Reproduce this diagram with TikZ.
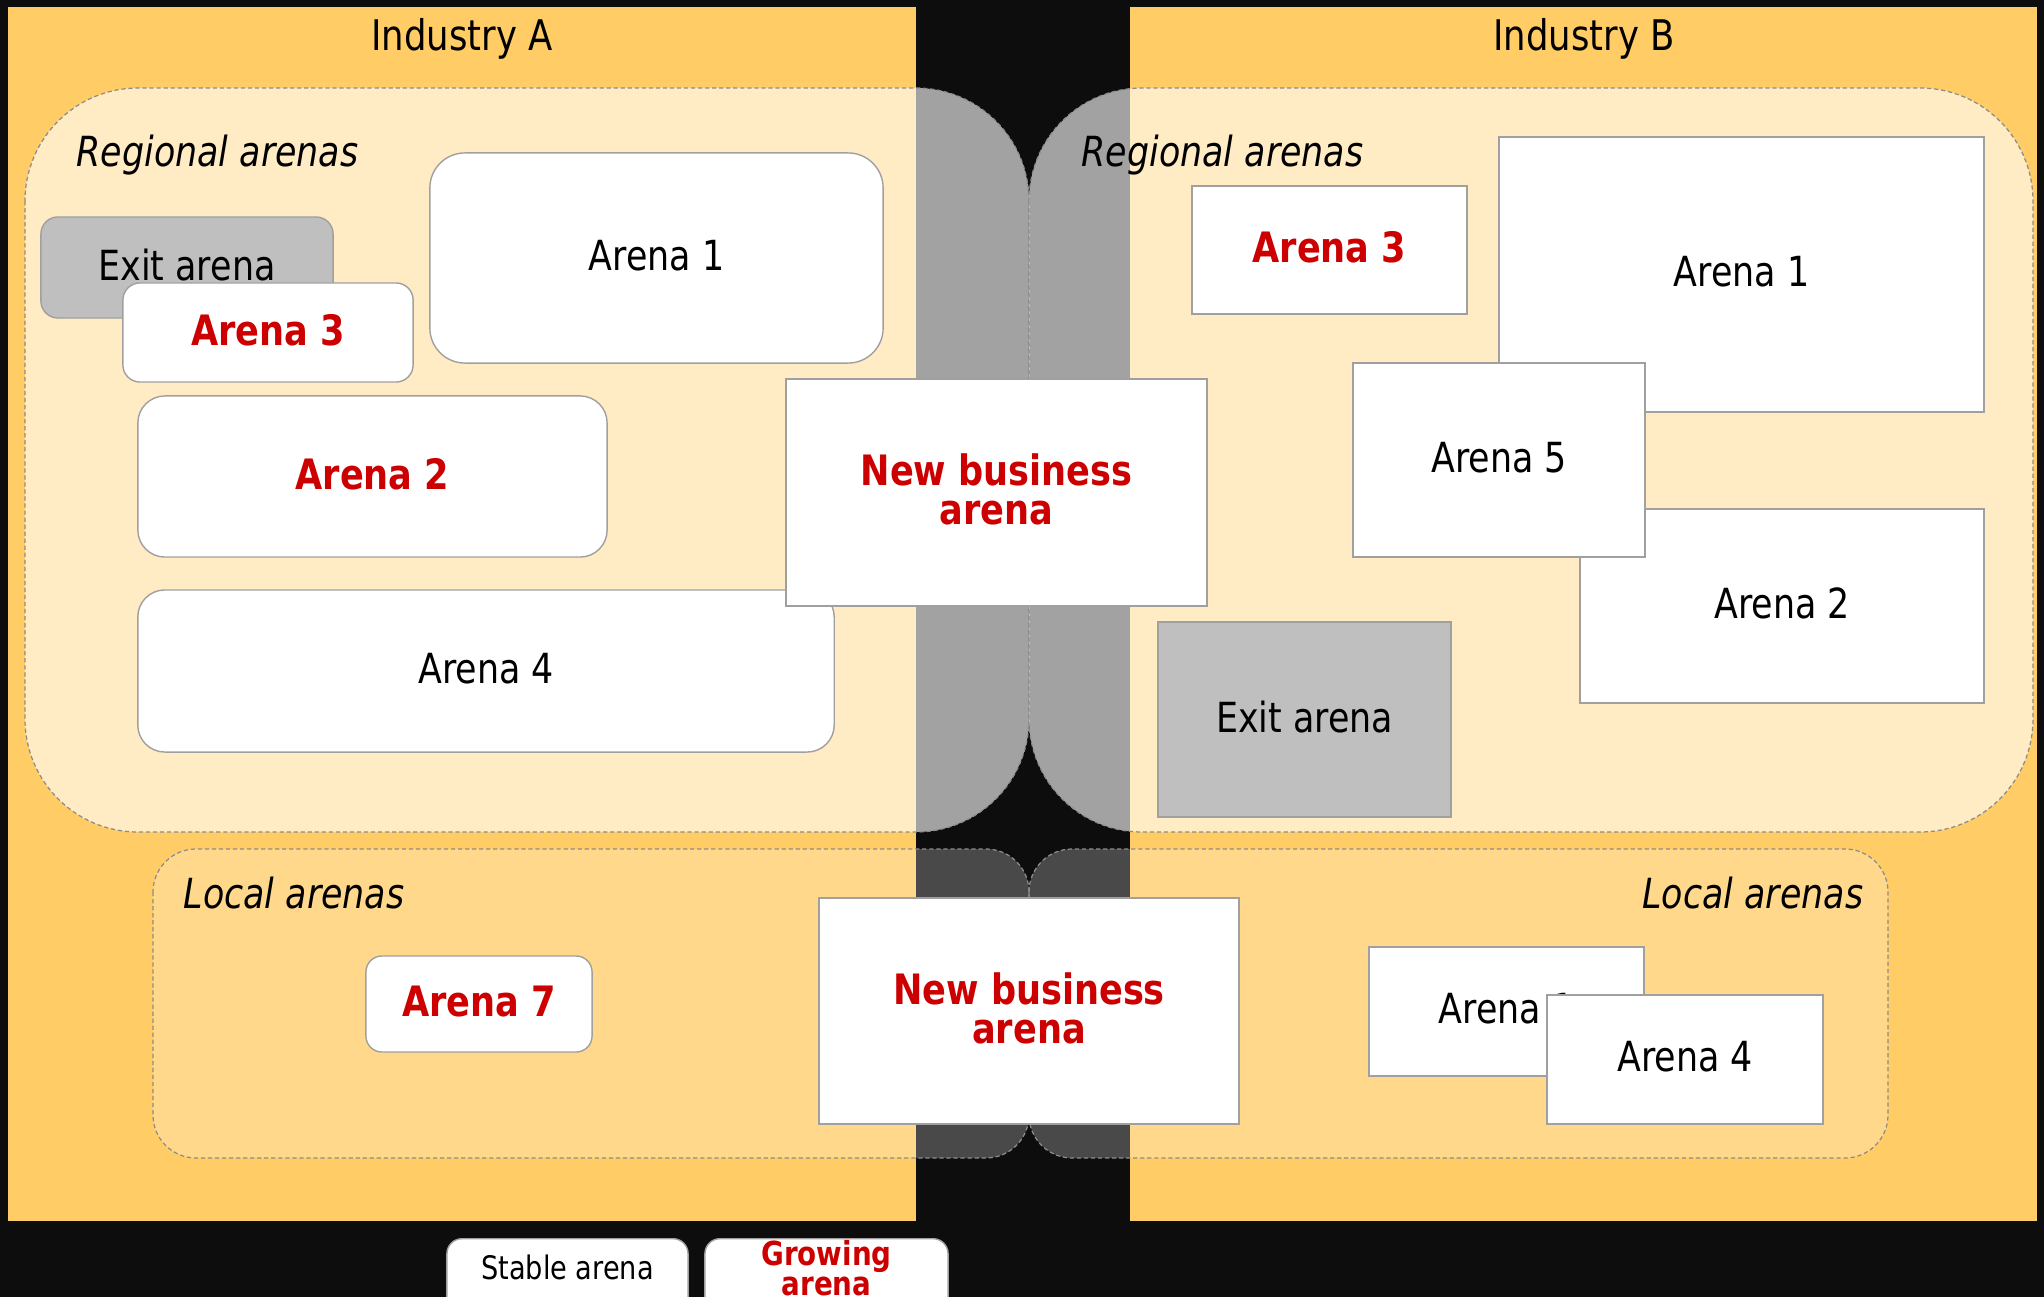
\documentclass[tikz,border=0pt]{standalone}
\usepackage{fontspec}
\setmainfont{DejaVu Sans}[FakeStretch=0.84]
\usetikzlibrary{%
	positioning,%
}
\definecolor{cblack}{RGB}{13, 13, 13}
\definecolor{corange}{RGB}{255, 204, 102}
\definecolor{cred}{RGB}{204, 0, 0}
\definecolor{cexit}{RGB}{191, 191, 191}
\definecolor{cedge}{RGB}{160, 160, 160}
\definecolor{cdash}{RGB}{140, 140, 140}
\tikzset{
	nodes={align=center},%
	arenanode/.style={%
			draw=cedge,%
			line width=0.4pt,%
			rectangle,%
			fill=white,%
			inner sep=0pt,%
			text depth=0.06cm,%
			font={\fontsize{11.8}{11.1}\selectfont}},%
	growingnode/.style={%
			arenanode,%
			text=cred,%
			font={\fontsize{11.9}{11.1}\selectfont\bfseries}},%
	exitnode/.style={%
			arenanode,%
			fill=cexit},%
	regionbox/.style={%
			draw=cdash,%
			dash pattern=on 1.2pt off 0.8pt,%
			line width=0.35pt},%
	regionalarea/.style={%
			regionbox,%
			fill=white,%
			fill opacity=0.62,%
			rounded corners=1.13cm},%
	localarea/.style={%
			regionbox,%
			fill=white,%
			fill opacity=0.25,%
			rounded corners=0.43cm},%
	arealabel/.style={%
			inner sep=0pt,%
			font={\fontsize{11.8}{13}\selectfont\itshape}},%
	industrylabel/.style={%
			inner sep=0pt,%
			font={\fontsize{12}{14}\selectfont}},%
	legendbox/.style={%
			arenanode,%
			rounded corners=0.15cm},%
	legendtext/.style={%
			inner sep=0pt,%
			font={\fontsize{9.2}{8.5}\selectfont}},%
}

\begin{document}
\begin{tikzpicture}[x=0.01cm, y=-0.01cm]
	\useasboundingbox (0,0) rectangle (2044,1297);
	\clip (0,0) rectangle (2044,1297);
	\fill[cblack] (0,0) rectangle (2044,1297);
	\fill[corange] (8,7) rectangle (916,1221);
	\fill[corange] (1130,7) rectangle (2037,1221);

	\draw[regionalarea] (25,88) rectangle (1029,832);
	\draw[regionalarea] (1029,88) rectangle (2033,832);
	\draw[localarea] (153,849) rectangle (1029,1158);
	\draw[localarea] (1029,849) rectangle (1888,1158);

	\node[industrylabel, anchor=base] (inda) at (462,51) {Industry A};
	\node[industrylabel, anchor=base] (indb) at (1584,51) {Industry B};
	\node[arealabel, anchor=base west] (rega) at (76,167) {Regional arenas};
	\node[arealabel, anchor=base west] (regb) at (1081,167) {Regional arenas};
	\node[arealabel, anchor=base west] (loca) at (183,908) {Local arenas};
	\node[arealabel, anchor=base east] (locb) at (1864,908) {Local arenas};

	\node[exitnode, rounded corners=0.17cm, minimum width=2.92cm, minimum height=1.01cm] (exa) at (187,267.5) {Exit arena};
	\node[growingnode, rounded corners=0.17cm, minimum width=2.90cm, minimum height=0.99cm] (a3a) at (268,332.5) {Arena 3};
	\node[arenanode, rounded corners=0.35cm, minimum width=4.53cm, minimum height=2.10cm] (a1a) at (656.5,258) {Arena 1};
	\node[growingnode, rounded corners=0.27cm, minimum width=4.69cm, minimum height=1.61cm] (a2a) at (372.5,476.5) {Arena 2};
	\node[arenanode, rounded corners=0.27cm, minimum width=6.96cm, minimum height=1.62cm] (a4a) at (486,671) {Arena 4};
	\node[growingnode, minimum width=4.21cm, minimum height=2.27cm] (nbaa) at (996.5,492.5) {New business\\arena};

	\node[growingnode, minimum width=2.75cm, minimum height=1.28cm] (a3b) at (1329.5,250) {Arena 3};
	\node[arenanode, minimum width=4.85cm, minimum height=2.75cm] (a1b) at (1741.5,274.5) {Arena 1};
	\node[arenanode, minimum width=4.04cm, minimum height=1.94cm] (a2b) at (1782,606) {Arena 2};
	\node[arenanode, minimum width=2.92cm, minimum height=1.94cm] (a5b) at (1499,460) {Arena 5};
	\node[exitnode, minimum width=2.93cm, minimum height=1.95cm] (exb) at (1304.5,719.5) {Exit arena};

	\node[growingnode, rounded corners=0.16cm, minimum width=2.26cm, minimum height=0.96cm] (a7a) at (479,1004) {Arena 7};
	\node[growingnode, minimum width=4.20cm, minimum height=2.26cm] (nbab) at (1029,1011) {New business\\arena};
	\node[arenanode, minimum width=2.75cm, minimum height=1.29cm] (a1c) at (1506.5,1011.5) {Arena 1};
	\node[arenanode, minimum width=2.76cm, minimum height=1.29cm] (a4c) at (1685,1059.5) {Arena 4};

	\node[legendbox, anchor=north, minimum width=2.41cm, minimum height=0.9cm] (stable) at (567.5,1238) {};
	\node[legendtext] (stabletxt) [below=0.16cm of stable.north] {Stable arena};
	\node[legendbox, anchor=north, minimum width=2.43cm, minimum height=0.9cm] (growing) at (826.5,1238) {};
	\node[legendtext, text=cred, font={\fontsize{9.4}{8.5}\selectfont\bfseries}] (growingtxt) [below=0.02cm of growing.north] {Growing\\arena};
\end{tikzpicture}
\end{document}
